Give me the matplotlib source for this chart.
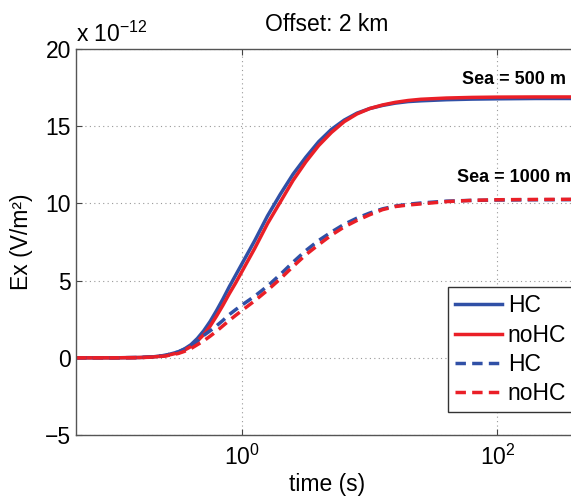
import numpy as np
import matplotlib
matplotlib.use("Agg")
import matplotlib.pyplot as plt

# -------------------------
# Data (field in units of 1e-12 V/m^2)
# -------------------------
log_t = [-1.3, -1.0, -0.8, -0.7, -0.6, -0.5, -0.45, -0.4, -0.35, -0.3,
         -0.25, -0.2, -0.15, -0.1, -0.05, 0.0,
         0.1, 0.2, 0.3, 0.4, 0.5, 0.6, 0.7, 0.8, 0.9, 1.0,
         1.1, 1.2, 1.3, 1.4, 1.6, 1.8, 2.0, 2.3, 2.63]
time_s = [10 ** v for v in log_t]

hc_500 = [0.0, 0.0, 0.02, 0.06, 0.16, 0.38, 0.58, 0.85, 1.25, 1.75,
          2.35, 3.05, 3.8, 4.6, 5.35, 6.1,
          7.6, 9.2, 10.6, 11.9, 13.0, 14.0, 14.8, 15.4, 15.85, 16.15,
          16.35, 16.5, 16.6, 16.65, 16.72, 16.76, 16.78, 16.8, 16.8]
nohc_500 = [0.0, 0.0, 0.02, 0.05, 0.13, 0.32, 0.5, 0.73, 1.08, 1.5,
            2.05, 2.7, 3.4, 4.15, 4.85, 5.6,
            7.1, 8.7, 10.1, 11.5, 12.7, 13.75, 14.6, 15.3, 15.8, 16.15,
            16.38, 16.55, 16.67, 16.75, 16.83, 16.87, 16.89, 16.9, 16.9]
hc_1000 = [0.0, 0.0, 0.02, 0.06, 0.16, 0.38, 0.56, 0.8, 1.1, 1.45,
           1.75, 2.07, 2.42, 2.8, 3.12, 3.42,
           4.0, 4.65, 5.4, 6.2, 6.95, 7.6, 8.15, 8.65, 9.05, 9.38,
           9.65, 9.83, 9.95, 10.03, 10.15, 10.2, 10.22, 10.24, 10.25]
nohc_1000 = [0.0, 0.0, 0.01, 0.05, 0.12, 0.28, 0.42, 0.6, 0.85, 1.1,
             1.4, 1.72, 2.07, 2.42, 2.75, 3.07,
             3.7, 4.38, 5.12, 5.92, 6.68, 7.33, 7.95, 8.48, 8.9, 9.27,
             9.6, 9.8, 9.9, 9.97, 10.12, 10.2, 10.24, 10.26, 10.27]

labels = ["HC", "noHC", "HC", "noHC"]
y_ticks = [-5, 0, 5, 10, 15, 20]
x_ticks = [1, 100]

# -------------------------
# Style
# -------------------------
plt.rcParams["font.family"] = ["Liberation Sans", "DejaVu Sans"]
plt.rcParams["mathtext.fontset"] = "custom"
plt.rcParams["mathtext.rm"] = "Liberation Sans"
plt.rcParams["mathtext.it"] = "Liberation Sans:italic"
plt.rcParams["mathtext.default"] = "regular"

blue = "#3050A6"
red = "#EA1F27"
fs = 16.5
dash = (0, (3, 1.8))

# -------------------------
# Plot
# -------------------------
fig = plt.figure(figsize=(5.71, 4.96), dpi=100)
ax = fig.add_axes([0.1331, 0.123, 0.879, 0.778])

ax.plot(time_s, hc_500, color=blue, lw=2.5, label=labels[0])
ax.plot(time_s, nohc_500, color=red, lw=2.5, label=labels[1])
ax.plot(time_s, hc_1000, color=blue, lw=2.5, ls=dash, label=labels[2])
ax.plot(time_s, nohc_1000, color=red, lw=2.5, ls=dash, label=labels[3])

ax.set_xscale("log")
ax.set_xlim(10 ** -1.3, 10 ** 2.63)
ax.set_ylim(-5, 20)
ax.set_xticks(x_ticks)
ax.xaxis.set_minor_locator(matplotlib.ticker.NullLocator())
ax.set_yticks(y_ticks)

ax.grid(True, ls=(0, (1, 3)), color="#999999", lw=0.8)
ax.tick_params(direction="in", length=4, width=0.8, color="#444444",
               labelsize=fs, top=True, right=True)
ax.tick_params(axis="x", pad=7)
for s in ax.spines.values():
    s.set_color("#555555")
    s.set_linewidth(1.0)

ax.set_title("Offset: 2 km", fontsize=fs, pad=13)
ax.set_xlabel("time (s)", fontsize=fs)
ax.xaxis.set_label_coords(0.5, -0.098)
ax.set_ylabel("Ex (V/m²)", fontsize=fs)
ax.yaxis.set_label_coords(-0.085, 0.5)

fig.text(76 / 571, 1 - 42 / 496, r"x 10$^{-12}$", fontsize=fs, va="baseline", ha="left")

ax.text(10 ** 2.54, 18.0, "Sea = 500 m", fontsize=13, fontweight="bold",
        ha="right", va="center")
ax.text(10 ** 2.575, 11.67, "Sea = 1000 m", fontsize=13, fontweight="bold",
        ha="right", va="center")

leg = ax.legend(loc="upper left", bbox_to_anchor=(447.7 / 571, 1 - 287 / 496),
                bbox_transform=fig.transFigure, fontsize=fs, frameon=True,
                fancybox=False, framealpha=1, edgecolor="#333333",
                handlelength=2.05, handletextpad=0.25, labelspacing=0.27,
                borderpad=0.32, borderaxespad=0)
leg.get_frame().set_linewidth(1.0)

fig.savefig("out.png", dpi=100)
